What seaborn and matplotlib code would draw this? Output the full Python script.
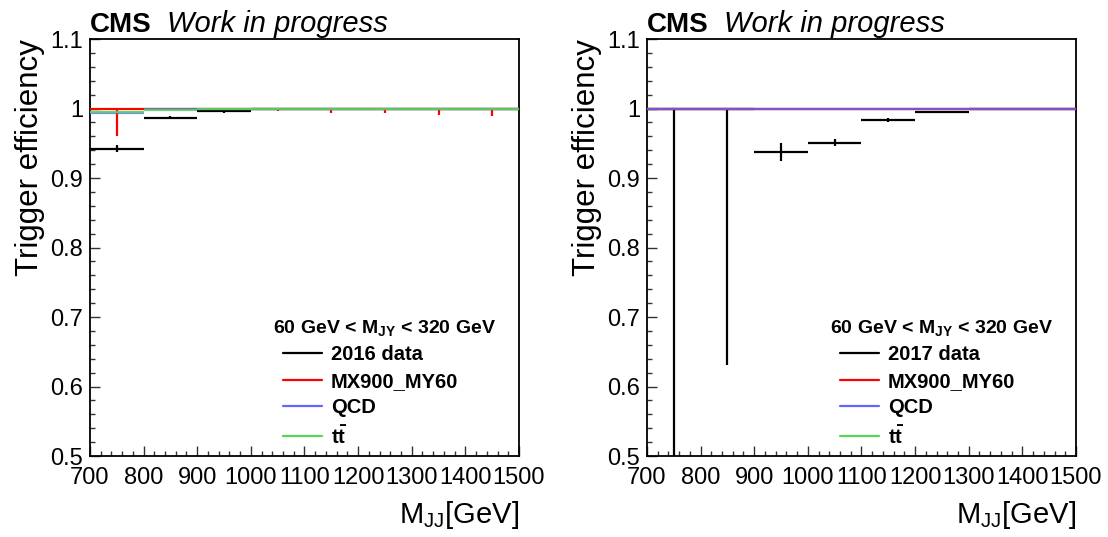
import matplotlib

matplotlib.use("Agg")
import matplotlib.pyplot as plt
import seaborn as sns
from matplotlib.lines import Line2D
from matplotlib.ticker import FuncFormatter, MultipleLocator

# bin centres of M_JJ (GeV), 100 GeV wide
mjj = [750, 850, 950, 1050, 1150, 1250, 1350, 1450]
half_width = 50

# 2016 panel
data16 = [0.942, 0.987, 0.996, 1.0, 1.0, 1.0, 1.0, 1.0]
data16_lo = [0.005, 0.002, 0.002, 0.001, 0.001, 0.001, 0.001, 0.001]
data16_hi = [0.005, 0.002, 0.002, 0.001, 0.0, 0.0, 0.0, 0.0]
sig16 = [1.0, 1.0, 1.0, 1.0, 1.0, 1.0, 1.0, 1.0]
sig16_lo = [0.039, 0.0, 0.0, 0.004, 0.006, 0.006, 0.010, 0.011]
qcd16 = [0.993, 1.0, 1.0, 1.0, 1.0, 1.0, 1.0, 1.0]
tt16 = [0.995, 0.998, 1.0, 1.0, 1.0, 1.0, 1.0, 1.0]

# 2017 panel
data17 = [1.0, 1.0, 0.938, 0.951, 0.984, 0.995, 1.0, 1.0]
data17_lo = [0.6, 0.369, 0.013, 0.005, 0.003, 0.002, 0.001, 0.001]
data17_hi = [0.0, 0.0, 0.013, 0.005, 0.003, 0.002, 0.0, 0.0]
sig17 = [1.0, 1.0, 1.0, 1.0, 1.0, 1.0, 1.0, 1.0]
qcd17 = [1.0, 1.0, 1.0, 1.0, 1.0, 1.0, 1.0, 1.0]
tt17 = [1.0, 1.0, 1.0, 1.0, 1.0, 1.0, 1.0, 1.0]

BLACK = "#000000"
RED = "#ff0000"
BLUE = "#6464ff"
GREEN = "#55d655"

sns.set_theme(style="ticks")
plt.rcParams["font.family"] = ["Liberation Sans", "DejaVu Sans"]
plt.rcParams["mathtext.fontset"] = "custom"
plt.rcParams["mathtext.rm"] = "Liberation Sans"
plt.rcParams["mathtext.bf"] = "Liberation Sans:bold"
plt.rcParams["mathtext.it"] = "Liberation Sans:italic"
for key in ("text.color", "axes.labelcolor", "xtick.color", "ytick.color",
            "axes.edgecolor"):
    plt.rcParams[key] = "black"

fig = plt.figure(figsize=(11.08, 5.37), dpi=100)
axes = [fig.add_axes([0.0812, 0.1508, 0.3872, 0.7765]),
        fig.add_axes([0.5839, 0.1508, 0.3872, 0.7765])]


def draw_series(ax, y, lo, hi, color, lw=1.6, alpha=1.0, z=2):
    ax.errorbar(mjj, y, xerr=half_width, yerr=[lo, hi], fmt="none",
                ecolor=color, elinewidth=lw, capsize=0, alpha=alpha, zorder=z)


zeros = [0.0] * len(mjj)
# last entry: z-order of the ttbar curve (on top in 2016, hidden in 2017)
panels = [
    (axes[0], "2016 data", data16, data16_lo, data16_hi, sig16, sig16_lo, qcd16, tt16, 5),
    (axes[1], "2017 data", data17, data17_lo, data17_hi, sig17, zeros, qcd17, tt17, 1.5),
]

for ax, label, dat, dlo, dhi, sig, slo, qcd, tt, ttz in panels:
    draw_series(ax, dat, dlo, dhi, BLACK, z=2)
    draw_series(ax, sig, slo, zeros, RED, z=3)
    draw_series(ax, qcd, zeros, zeros, BLUE, alpha=0.8, z=4)
    draw_series(ax, tt, zeros, zeros, GREEN, alpha=0.9, z=ttz)

    ax.set_xlim(700, 1500)
    ax.set_ylim(0.5, 1.1)
    ax.xaxis.set_major_locator(MultipleLocator(100))
    ax.xaxis.set_minor_locator(MultipleLocator(20))
    ax.yaxis.set_major_locator(MultipleLocator(0.1))
    ax.yaxis.set_minor_locator(MultipleLocator(0.02))
    ax.yaxis.set_major_formatter(FuncFormatter(lambda v, p: f"{v:g}"))
    ax.tick_params(which="both", direction="in", top=False, right=False,
                   labelsize=17, color="#333333")
    ax.tick_params(axis="x", pad=8)
    ax.tick_params(axis="y", pad=5)
    ax.tick_params(which="major", length=7, width=1)
    ax.tick_params(which="minor", length=3.5, width=1)
    for s in ax.spines.values():
        s.set_linewidth(1.3)

    ax.set_ylabel("Trigger efficiency", fontsize=22.5, loc="top", labelpad=4)
    ax.set_xlabel(r"M$_{\mathrm{JJ}}$[GeV]", fontsize=21, loc="right", labelpad=7)

    ax.text(0.0, 1.017, "CMS", transform=ax.transAxes, fontsize=20,
            fontweight="bold", ha="left", va="baseline")
    ax.text(0.18, 1.017, "Work in progress", transform=ax.transAxes,
            fontsize=21, style="italic", ha="left", va="baseline")

    ax.text(0.4266, 0.306, r"60 GeV < M$_{\mathbf{JY}}$ < 320 GeV",
            transform=ax.transAxes, fontsize=14, fontweight="bold",
            ha="left", va="center")

    handles = [Line2D([], [], color=c, lw=1.6) for c in (BLACK, RED, BLUE, GREEN)]
    names = [label, "MX900_MY60", "QCD", r"t$\mathbf{\bar{t}}$"]
    leg = ax.legend(handles, names, loc="upper left",
                    bbox_to_anchor=(0.45, 0.266), frameon=False,
                    handlelength=1.95, handletextpad=0.42,
                    labelspacing=0.38, borderpad=0, borderaxespad=0,
                    prop={"size": 14.5, "weight": "bold"})

fig.savefig("out.png", dpi=100)
